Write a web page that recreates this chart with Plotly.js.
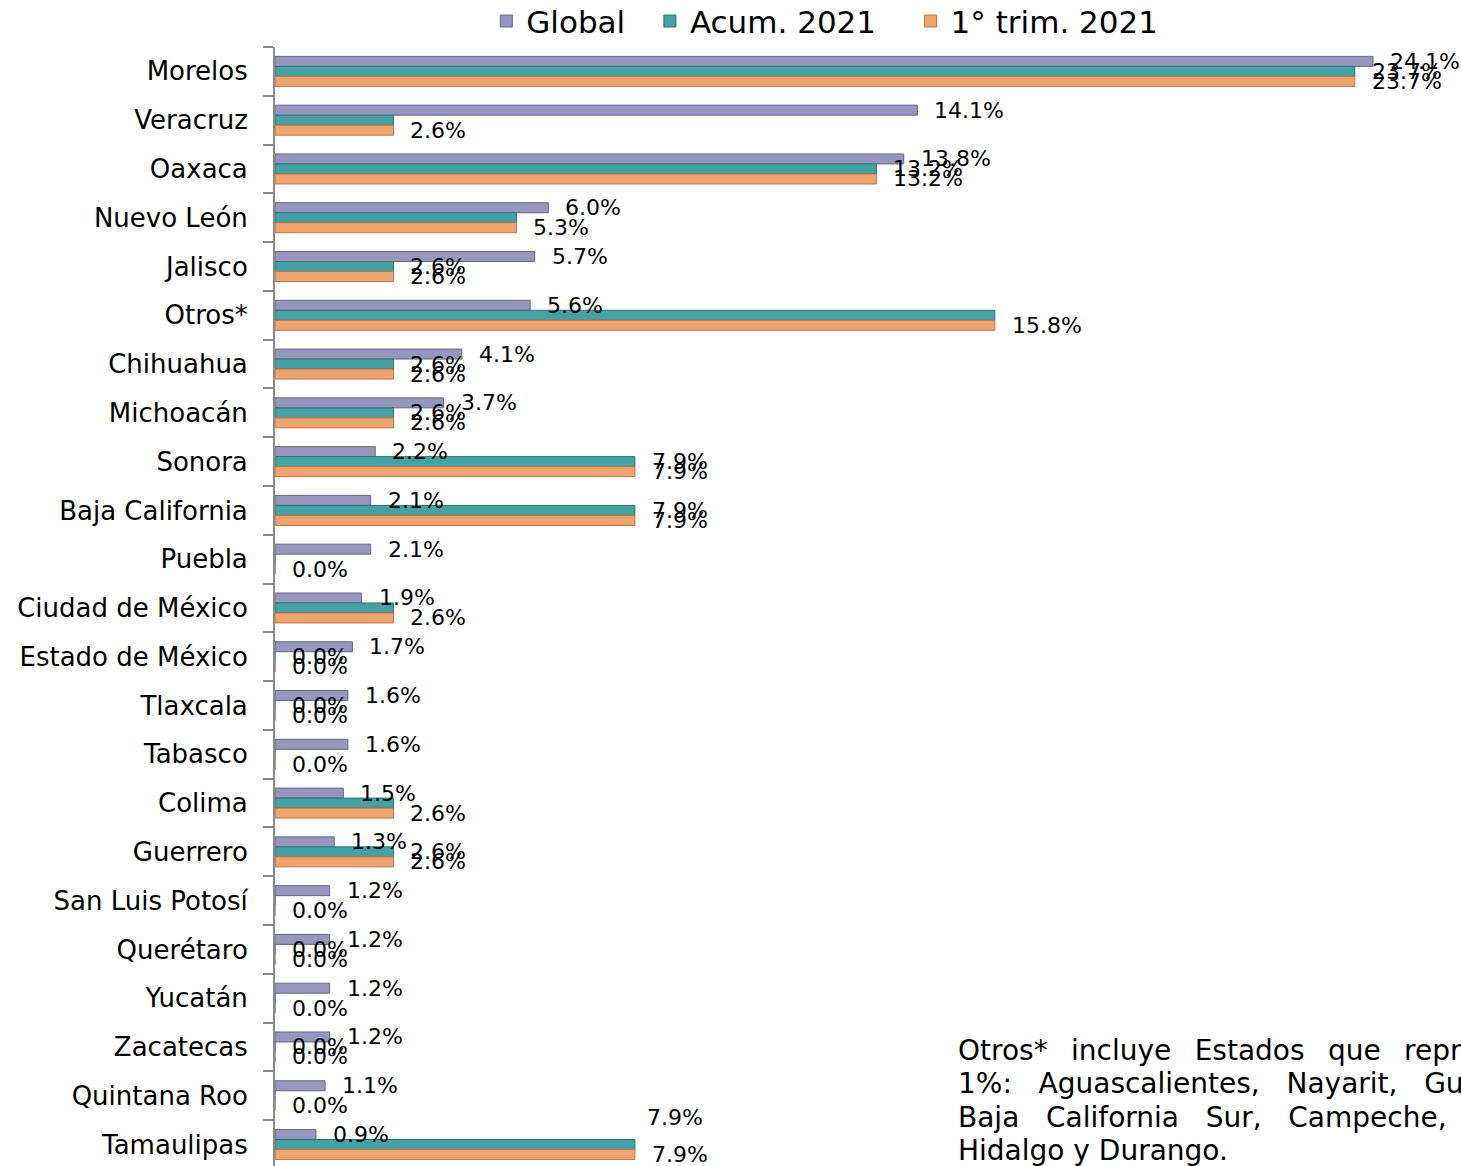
<!DOCTYPE html>
<html>
<head>
<meta charset="utf-8">
<script src="https://cdn.plot.ly/plotly-3.0.1.min.js"></script>
<style>
  html, body { margin: 0; padding: 0; background: #ffffff; }
  #chart { width: 1461px; height: 1166px; }
</style>
</head>
<body>
<div id="chart"></div>
<script>
// ---- data ----
const categories = ['Morelos', 'Veracruz', 'Oaxaca', 'Nuevo León', 'Jalisco', 'Otros*',
  'Chihuahua', 'Michoacán', 'Sonora', 'Baja California', 'Puebla', 'Ciudad de México',
  'Estado de México', 'Tlaxcala', 'Tabasco', 'Colima', 'Guerrero', 'San Luis Potosí',
  'Querétaro', 'Yucatán', 'Zacatecas', 'Quintana Roo', 'Tamaulipas'];
const globalValues = [24.1, 14.1, 13.8, 6.0, 5.7, 5.6, 4.1, 3.7, 2.2, 2.1, 2.1, 1.9,
  1.7, 1.6, 1.6, 1.5, 1.3, 1.2, 1.2, 1.2, 1.2, 1.1, 0.9];
const acumValues = [23.7, 2.6, 13.2, 5.3, 2.6, 15.8, 2.6, 2.6, 7.9, 7.9, 0.0, 2.6,
  0.0, 0.0, 0.0, 2.6, 2.6, 0.0, 0.0, 0.0, 0.0, 0.0, 7.9];
const trimValues = [23.7, 2.6, 13.2, 5.3, 2.6, 15.8, 2.6, 2.6, 7.9, 7.9, 0.0, 2.6,
  0.0, 0.0, 0.0, 2.6, 2.6, 0.0, 0.0, 0.0, 0.0, 0.0, 7.9];
// which "Acum. 2021" data labels are visible in the reference (1 = shown)
const acumLabelShown = [1, 0, 1, 0, 1, 0, 1, 1, 1, 1, 0, 0, 1, 1, 0, 0, 1, 0, 1, 0, 1, 0, 1];
const seriesNames = ['Global', 'Acum. 2021', '1° trim. 2021'];
const noteLines = [
  ['Otros*', 'incluye', 'Estados', 'que', 'representan'],
  ['1%:', 'Aguascalientes,', 'Nayarit,', 'Guanajuato,'],
  ['Baja', 'California', 'Sur,', 'Campeche,'],
  ['Hidalgo', 'y', 'Durango.']
];

// ---- styles ----
const FONT = 'DejaVu Sans, Verdana, sans-serif';
const colors = ['#9696be', '#44a2a4', '#eda46e'];
const lineColors = ['#67678a', '#2e7274', '#c4733f'];
const labelYShift = [10, 0, -10];   // px offset of each series inside a group
// manual label moves seen in the reference (series index, row index, dx, dy in px)
const labelMoves = [{ s: 1, i: 22, dx: -5, dy: 27 }];
// word gaps used to imitate the justified note text
const noteGaps = [' \u00A0\u2009', ' \u00A0\u00A0', ' \u00A0\u00A0', ' '];
const legendPad = ['\u00A0\u00A0', '\u00A0\u00A0\u00A0', '\u00A0\u00A0'];

const seriesValues = [globalValues, acumValues, trimValues];

const traces = seriesValues.map((vals, s) => ({
  type: 'bar',
  orientation: 'h',
  name: seriesNames[s] + legendPad[s],
  y: categories,
  x: vals,
  marker: { color: colors[s], line: { color: lineColors[s], width: 1 } },
  hoverinfo: 'x+y+name'
}));

const annotations = [];
seriesValues.forEach((vals, s) => {
  vals.forEach((v, i) => {
    if (s === 1 && !acumLabelShown[i]) return;
    let dx = 0, dy = 0;
    labelMoves.forEach(m => { if (m.s === s && m.i === i) { dx = m.dx; dy = m.dy; } });
    annotations.push({
      x: v, y: categories[i], xref: 'x', yref: 'y',
      text: v.toFixed(1) + '%',
      showarrow: false, xanchor: 'left', yanchor: 'middle',
      xshift: 15 + dx, yshift: labelYShift[s] + dy,
      font: { family: FONT, size: 22, color: '#000000' }
    });
  });
});

noteLines.forEach((words, k) => {
  annotations.push({
    xref: 'paper', yref: 'paper', x: (956 - 275) / 1186, y: 1 - (1050 + k * 33.5 - 47) / 1119,
    xanchor: 'left', yanchor: 'middle', align: 'left', showarrow: false,
    text: words.join(noteGaps[k]),
    font: { family: FONT, size: 28, color: '#000000' }
  });
});

const layout = {
  width: 1461, height: 1166,
  margin: { l: 275, r: 0, t: 47, b: 0, pad: 0, autoexpand: false },
  paper_bgcolor: '#ffffff', plot_bgcolor: '#ffffff',
  barmode: 'group', bargap: 0.385, bargroupgap: 0,
  showlegend: true,
  legend: {
    orientation: 'h', x: 0.472, xanchor: 'center', y: 1.047, yanchor: 'top',
    font: { family: FONT, size: 31, color: '#000000' },
    traceorder: 'normal', itemwidth: 30, bgcolor: 'rgba(0,0,0,0)'
  },
  xaxis: {
    range: [0, 1186 / 45.56], showgrid: false, zeroline: false, showline: false,
    showticklabels: false, ticks: '', fixedrange: true
  },
  yaxis: {
    type: 'category', range: [22.44, -0.5], showgrid: false, zeroline: false,
    showline: true, linecolor: '#8a8a8a', linewidth: 2,
    ticks: 'outside', ticklen: 10, tickwidth: 2, tickcolor: '#8a8a8a',
    tickson: 'boundaries', ticklabelstandoff: 20, automargin: false,
    tickfont: { family: FONT, size: 26, color: '#000000' }, fixedrange: true
  },
  annotations: annotations,
  font: { family: FONT }
};

Plotly.newPlot('chart', traces, layout, { displayModeBar: false, staticPlot: true });
</script>
</body>
</html>
